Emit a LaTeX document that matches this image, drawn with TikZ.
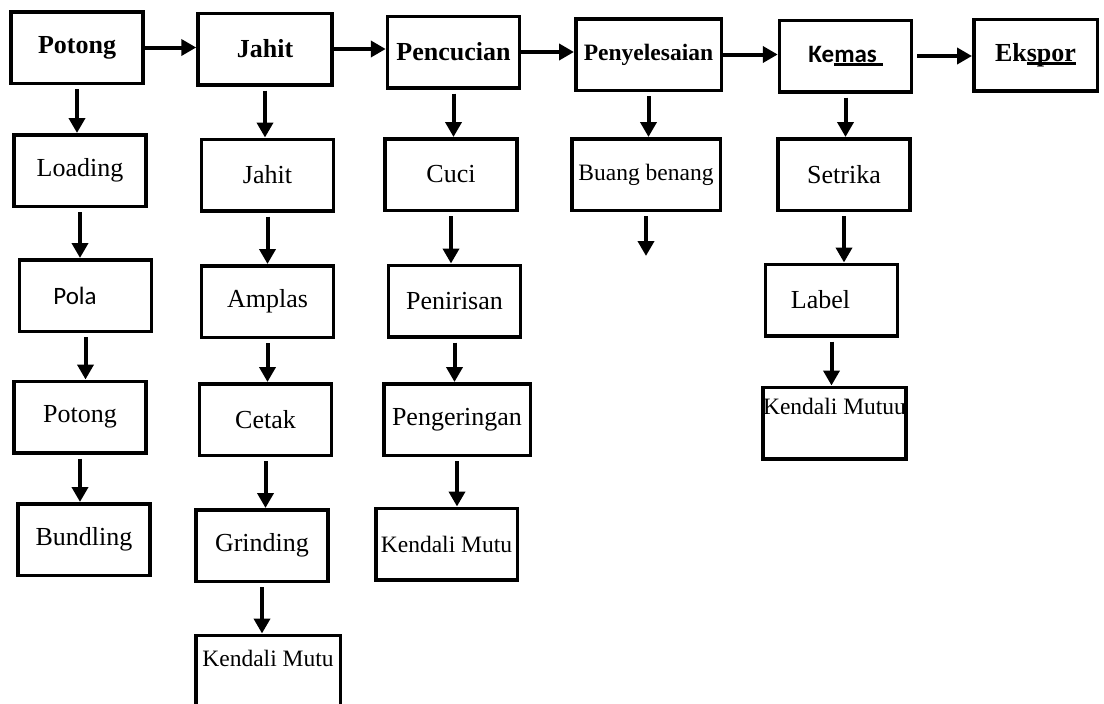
\documentclass[tikz,border=0pt]{standalone}
\usepackage{fontspec}
\setmainfont{Liberation Serif}
\newfontfamily\calibri{Carlito}
\usetikzlibrary{arrows.meta}
\newcommand{\ulin}[1]{\setbox0\hbox{#1}\rlap{\rule[-4pt]{\wd0}{3pt}}\box0}

\begin{document}
\begin{tikzpicture}[x=1pt, y=-1pt,
    box/.style={draw, line width=3.5pt, inner sep=0pt, minimum width=132pt, minimum height=71.5pt, font=\fontsize{26}{31}\selectfont},
    hbox/.style={box, font=\fontsize{26}{31}\selectfont\bfseries},
    smtext/.style={font=\fontsize{23.5}{28}\selectfont},
    arr/.style={line width=4pt, shorten <=4pt, -{Triangle[length=15pt,width=16pt]}}]
        \useasboundingbox (0,0) rectangle (1104,704);

        \node[hbox] (p0)at(77,47.5) {Potong};
        \node[hbox, minimum width=134pt] (j0)at(265,49) {Jahit};
        \node[hbox] (c0)at(453.5,52) {Pencucian};
        \node[hbox, minimum width=145.5pt, font=\fontsize{23.5}{28}\selectfont\bfseries] (s0)at(648.5,54.5) {Penyelesaian};
        \node[hbox, font=\calibri\fontsize{25}{30}\selectfont\bfseries] (k0)at(845.5,56) {Ke\ulin{mas\ }};
        \node[hbox, minimum width=123.5pt] (e0)at(1035.5,55) {Ek\ulin{spor}};

        \node[box] (p1)at(80,170.5) {Loading};
        \node[box, font=\calibri\fontsize{25}{30}\selectfont] (p2)at(85.5,295.5) {Pola\rule{21pt}{0pt}};
        \node[box] (p3)at(80,417) {Potong};
        \node[box] (p4)at(84,539.5) {Bundling};

        \node[box] (j1)at(267.5,175) {Jahit};
        \node[box] (j2)at(267.5,301.5) {Amplas};
        \node[box] (j3)at(265.5,419.5) {Cetak};
        \node[box] (j4)at(262,545.5) {Grinding};
        \node[box, smtext, minimum width=144.5pt, align=center] (j5)at(268,671) {Kendali Mutu\\[-12pt]\strut};

        \node[box] (c1)at(451,174.5) {Cuci};
        \node[box] (c2)at(454.5,301) {Penirisan};
        \node[box, minimum width=146.5pt] (c3)at(457,419.5) {Pengeringan};
        \node[box, smtext, minimum width=141.5pt] (c4)at(446.5,544) {Kendali Mutu};

        \node[box, smtext, minimum width=148.5pt] (s1)at(646,174.5) {Buang benang};
        \coordinate (s2) at (646,256);

        \node[box] (k1)at(844,174.5) {Setrika};
        \node[box] (k2)at(831.5,300) {Label\rule{22pt}{0pt}};
        \node[box, smtext, minimum width=141.5pt, align=center] (k3)at(834.5,423) {Kendali Mutuu\\[-4pt]\strut};

        \draw[arr, shorten <=0pt] (p0.east) -- (p0.east -| j0.west);
        \draw[arr, shorten <=0pt] (j0.east) -- (j0.east -| c0.west);
        \draw[arr, shorten <=0pt] (c0.east) -- (c0.east -| s0.west);
        \draw[arr, shorten <=0pt] (s0.east) -- (s0.east -| k0.west);
        \draw[arr] (k0.east) -- (k0.east -| e0.west);

        \draw[arr] (p0.south) -- (p0.south |- p1.north);
        \draw[arr] (p1.south) -- (p1.south |- p2.north);
        \draw[arr] (p2.south) -- (p2.south |- p3.north);
        \draw[arr] (p3.south) -- (p3.south |- p4.north);

        \draw[arr] (j0.south) -- (j0.south |- j1.north);
        \draw[arr] (j1.south) -- (j1.south |- j2.north);
        \draw[arr] (j2.south) -- (j2.south |- j3.north);
        \draw[arr] (j3.south) -- (j3.south |- j4.north);
        \draw[arr] (j4.south) -- (j4.south |- j5.north);

        \draw[arr] (c0.south) -- (c0.south |- c1.north);
        \draw[arr] (c1.south) -- (c1.south |- c2.north);
        \draw[arr] (c2.south) -- (c2.south |- c3.north);
        \draw[arr] (c3.south) -- (c3.south |- c4.north);

        \draw[arr] (s0.south) -- (s0.south |- s1.north);
        \draw[arr] (s1.south) -- (s2);

        \draw[arr] (k0.south) -- (k0.south |- k1.north);
        \draw[arr] (k1.south) -- (k1.south |- k2.north);
        \draw[arr] (k2.south) -- (k2.south |- k3.north);
\end{tikzpicture}
\end{document}
